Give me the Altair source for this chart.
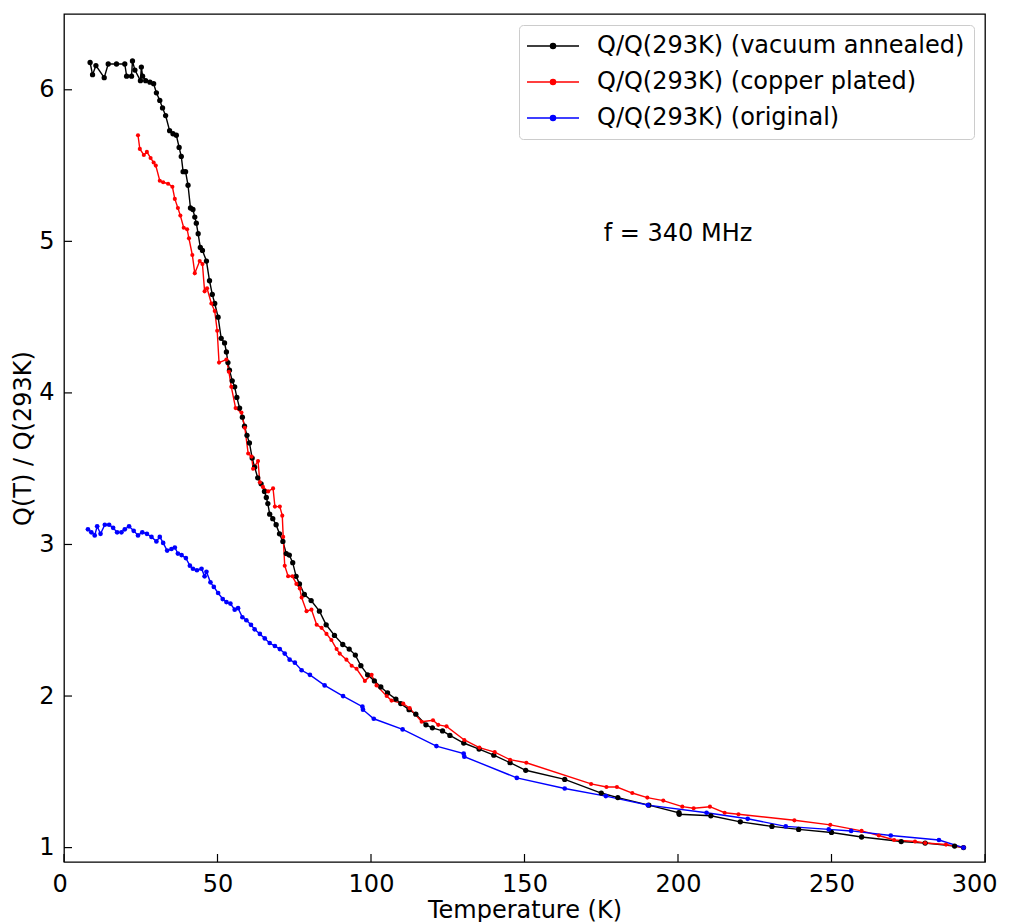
import altair as alt
import pandas as pd

# ---- data ----
series_names = ["Q/Q(293K) (vacuum annealed)", "Q/Q(293K) (copper plated)", "Q/Q(293K) (original)"]
series_colors = ["#000000", "#ff0000", "#0000ff"]
series_sizes = [28, 17, 22]

va_T = [8.5, 9.3, 10.4, 13.1, 14.4, 17.1, 19.8, 20.4, 22.0, 22.3,
        23.1, 24.9, 25.2, 25.6, 26.6, 28.0, 29.2, 30.1, 31.2, 32.1,
        33.1, 34.4, 35.5, 36.6, 37.5, 38.2, 38.8, 39.6, 40.4, 41.2,
        42.0, 42.6, 43.1, 43.7, 44.4, 45.1, 46.4, 47.4, 48.3, 49.1,
        50.2, 51.2, 52.3, 52.9, 53.4, 53.9, 54.8, 55.6, 56.3, 57.2,
        58.1, 58.8, 59.6, 60.4, 61.3, 62.1, 63.1, 64.2, 65.3, 65.9,
        66.4, 67.0, 68.0, 69.1, 70.2, 71.3, 72.4, 73.4, 74.5, 75.6,
        76.7, 78.3, 80.5, 83.2, 85.4, 88.1, 90.8, 92.9, 94.9, 96.7,
        98.9, 101.1, 103.2, 105.4, 108.1, 109.7, 112.4, 114.6, 117.9, 120.0,
        123.3, 125.7, 130.2, 135.2, 140.0, 145.3, 150.4, 163.1, 175.0, 180.4,
        190.5, 200.3, 200.4, 210.7, 220.3, 230.6, 239.3, 250.0, 259.8, 272.7,
        280.5, 290.1, 293.0]
va_Q = [6.18, 6.10, 6.16, 6.08, 6.17, 6.17, 6.17, 6.09, 6.09, 6.19,
        6.13, 6.06, 6.15, 6.09, 6.06, 6.05, 6.04, 5.98, 5.93, 5.88,
        5.83, 5.73, 5.71, 5.70, 5.62, 5.56, 5.46, 5.46, 5.37, 5.22,
        5.21, 5.16, 5.12, 5.05, 4.96, 4.94, 4.87, 4.74, 4.65, 4.59,
        4.50, 4.36, 4.33, 4.27, 4.20, 4.15, 4.08, 4.04, 3.97, 3.90,
        3.84, 3.78, 3.72, 3.67, 3.57, 3.51, 3.44, 3.40, 3.35, 3.31,
        3.27, 3.20, 3.17, 3.13, 3.07, 3.02, 2.94, 2.93, 2.88, 2.79,
        2.74, 2.67, 2.63, 2.56, 2.47, 2.40, 2.34, 2.31, 2.27, 2.20,
        2.14, 2.10, 2.06, 2.02, 1.98, 1.95, 1.91, 1.88, 1.81, 1.79,
        1.77, 1.74, 1.69, 1.65, 1.61, 1.56, 1.51, 1.45, 1.36, 1.33,
        1.28, 1.23, 1.22, 1.21, 1.17, 1.14, 1.12, 1.10, 1.07, 1.04,
        1.03, 1.01, 1.00]

cp_T = [24.1, 24.7, 26.0, 27.0, 28.2, 29.2, 29.9, 31.2, 32.3, 33.9,
        35.3, 36.1, 37.1, 37.9, 39.0, 40.1, 40.7, 41.8, 42.6, 44.2,
        45.1, 45.8, 46.6, 48.0, 49.1, 49.9, 50.5, 52.9, 53.7, 54.5,
        55.9, 57.8, 58.9, 60.0, 61.1, 61.6, 63.2, 63.8, 64.8, 66.5,
        68.1, 68.7, 70.3, 71.1, 71.4, 71.9, 73.0, 74.4, 75.7, 76.8,
        77.4, 79.0, 80.6, 82.3, 83.9, 85.5, 87.1, 88.8, 89.8, 92.0,
        93.7, 95.3, 98.0, 100.2, 101.8, 105.1, 106.7, 110.5, 112.6, 116.5,
        120.2, 121.9, 124.6, 130.4, 135.3, 140.3, 145.3, 150.6, 171.7, 176.7,
        180.1, 185.1, 190.0, 195.2, 201.4, 205.1, 210.4, 215.2, 219.7, 237.9,
        249.6, 259.8, 265.4, 270.4, 277.2, 280.5, 287.3, 293.0]
cp_Q = [5.70, 5.61, 5.57, 5.59, 5.55, 5.52, 5.50, 5.40, 5.39, 5.38,
        5.36, 5.28, 5.22, 5.17, 5.09, 5.08, 5.02, 4.91, 4.79, 4.87,
        4.85, 4.67, 4.69, 4.59, 4.54, 4.41, 4.20, 4.22, 4.14, 4.04,
        3.90, 3.87, 3.77, 3.60, 3.58, 3.50, 3.55, 3.41, 3.38, 3.35,
        3.37, 3.25, 3.25, 3.19, 3.05, 2.86, 2.79, 2.79, 2.74, 2.71,
        2.65, 2.56, 2.57, 2.47, 2.45, 2.41, 2.37, 2.31, 2.28, 2.24,
        2.20, 2.18, 2.10, 2.14, 2.07, 2.00, 1.97, 1.95, 1.92, 1.83,
        1.84, 1.81, 1.80, 1.71, 1.66, 1.63, 1.58, 1.56, 1.42, 1.40,
        1.40, 1.36, 1.33, 1.31, 1.27, 1.26, 1.27, 1.23, 1.22, 1.18,
        1.15, 1.11, 1.08, 1.05, 1.04, 1.03, 1.02, 1.00]

og_T = [7.8, 8.9, 10.0, 10.8, 11.9, 13.3, 14.7, 16.0, 17.3, 18.7,
        19.8, 21.2, 22.7, 24.1, 25.5, 27.0, 28.5, 30.1, 31.2, 32.3,
        33.6, 35.0, 36.1, 37.1, 38.3, 39.7, 41.0, 42.0, 43.3, 44.8,
        45.8, 46.4, 47.7, 48.8, 50.2, 51.7, 52.9, 54.2, 55.6, 56.7,
        58.1, 59.4, 60.9, 62.1, 63.8, 65.4, 67.0, 68.7, 70.3, 71.9,
        73.5, 75.2, 77.4, 80.1, 84.9, 90.9, 97.2, 97.4, 100.9, 110.3,
        121.3, 130.2, 130.4, 147.5, 163.1, 176.5, 190.2, 209.3, 222.7, 235.1,
        249.1, 256.4, 269.3, 285.0, 293.0]
og_Q = [3.10, 3.08, 3.06, 3.12, 3.07, 3.13, 3.13, 3.11, 3.08, 3.08,
        3.10, 3.12, 3.09, 3.06, 3.08, 3.07, 3.05, 3.02, 3.05, 3.01,
        2.96, 2.97, 2.98, 2.94, 2.93, 2.91, 2.86, 2.84, 2.83, 2.84,
        2.79, 2.82, 2.75, 2.72, 2.68, 2.64, 2.62, 2.61, 2.57, 2.58,
        2.52, 2.50, 2.47, 2.44, 2.41, 2.38, 2.35, 2.33, 2.31, 2.28,
        2.24, 2.22, 2.17, 2.14, 2.07, 2.00, 1.93, 1.91, 1.85, 1.78,
        1.67, 1.62, 1.60, 1.46, 1.39, 1.34, 1.28, 1.23, 1.19, 1.14,
        1.12, 1.11, 1.08, 1.05, 1.00]

x_ticks = [0, 50, 100, 150, 200, 250, 300]
y_ticks = [1, 2, 3, 4, 5, 6]
x_domain = [0, 300]
y_domain = [0.905, 6.5]
annotation = "f = 340 MHz"
annotation_pos = (200, 5.05)

# ---- build table ----
rows = []
for name, T, Q in zip(series_names, [va_T, cp_T, og_T], [va_Q, cp_Q, og_Q]):
    for i, (t, q) in enumerate(zip(T, Q)):
        rows.append({"series": name, "T": t, "Q": q, "i": i})
df = pd.DataFrame(rows)

FONT = "DejaVu Sans"
FS = 24
W, H = 921, 848

xs = alt.Scale(domain=x_domain, nice=False, zero=False)
ys = alt.Scale(domain=y_domain, nice=False, zero=False)
cs = alt.Scale(domain=series_names, range=series_colors)

x_enc = alt.X("T:Q", scale=xs, axis=alt.Axis(
    values=x_ticks, ticks=False, domain=False, grid=False, title="Temperature (K)",
    labelPadding=10, titlePadding=2, format="d", labelFlush=True, labelFlushOffset=12))
y_enc = alt.Y("Q:Q", scale=ys, axis=alt.Axis(
    values=y_ticks, ticks=False, domain=False, grid=False, title="Q(T) / Q(293K)",
    labelPadding=10, titlePadding=3, format="d", labelFlush=False))

# legend symbol (size 400 -> path unit = 10 px): 52 px line with a 5 px dot (concentric rings)
legend_path = ("M-2.6,0L2.6,0"
               "M-0.255,0A0.255,0.255,0,1,1,0.255,0A0.255,0.255,0,1,1,-0.255,0"
               "M-0.13,0A0.13,0.13,0,1,1,0.13,0A0.13,0.13,0,1,1,-0.13,0"
               "M-0.05,0A0.05,0.05,0,1,1,0.05,0A0.05,0.05,0,1,1,-0.05,0")
line_color = alt.Color("series:N", scale=cs,
                       legend=alt.Legend(title=None, orient="top-right", offset=11,
                                         padding=9, fillColor="white", strokeColor="#cccccc",
                                         cornerRadius=4, labelFontSize=FS, labelFont=FONT,
                                         labelColor="black", symbolType=legend_path,
                                         symbolSize=400, symbolStrokeWidth=1.4,
                                         symbolOffset=13, labelOffset=32,
                                         rowPadding=12, labelLimit=600,
                                         symbolOpacity=1))

base = alt.Chart(df)
lines = base.mark_line(strokeWidth=1.4).encode(
    x=x_enc, y=y_enc, color=line_color, order="i:Q")

point_layers = []
for name, col, sz in zip(series_names, series_colors, series_sizes):
    point_layers.append(
        base.transform_filter(alt.datum.series == name)
        .mark_point(filled=True, opacity=1, size=sz, color=col)
        .encode(x=x_enc, y=y_enc)
    )

xt = alt.Chart(pd.DataFrame({"v": x_ticks})).mark_rule(color="black", strokeWidth=1.2).encode(
    x=alt.X("v:Q", scale=xs), y=alt.value(H), y2=alt.value(H - 8))
yt = alt.Chart(pd.DataFrame({"v": y_ticks})).mark_rule(color="black", strokeWidth=1.2).encode(
    y=alt.Y("v:Q", scale=ys), x=alt.value(0), x2=alt.value(8))

text = alt.Chart(pd.DataFrame({"t": [annotation]})).mark_text(
    align="center", baseline="middle", fontSize=FS, font=FONT, color="black").encode(
    x=alt.datum(annotation_pos[0]), y=alt.datum(annotation_pos[1]), text="t:N")

chart = alt.layer(lines, *point_layers, xt, yt, text).properties(
    width=W, height=H,
    autosize=alt.AutoSizeParams(type="none"),
    padding={"left": 56, "top": 6, "right": 18, "bottom": 60},
).configure_view(stroke="black", strokeWidth=1.3).configure_axis(
    labelFont=FONT, titleFont=FONT, labelFontSize=FS, titleFontSize=FS,
    labelColor="black", titleColor="black", titleFontWeight="normal",
).configure_legend(symbolSize=400)

chart.save("out.html", embed_options={"renderer": "svg", "actions": False})
